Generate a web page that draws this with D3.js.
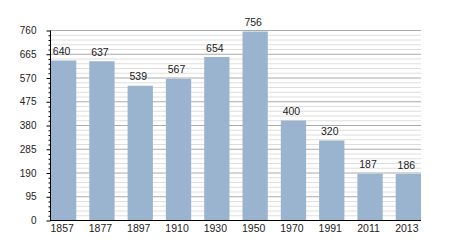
<!DOCTYPE html>
<html>
<head>
<meta charset="utf-8">
<script src="https://cdn.jsdelivr.net/npm/d3@7"></script>
<style>
  body { margin: 0; background: #fff; }
  text { font-family: "Liberation Sans", Arial, sans-serif; fill: #222; }
</style>
</head>
<body>
<div id="chart"></div>
<script>
const width = 450;
const height = 250;

// datos
const years = ["1857", "1877", "1897", "1910", "1930", "1950", "1970", "1991", "2011", "2013"];
const population = [640, 637, 539, 567, 654, 756, 400, 320, 187, 186];
const majorTicks = [0, 95, 190, 285, 380, 475, 570, 665, 760];
const minorStep = 19;

const svg = d3.select("div#chart")
  .append("svg")
  .attr("width", width)
  .attr("height", height);

// escalas
const x = d3.scaleBand()
  .domain(years)
  .range([51, 421])
  .paddingInner(0.34)
  .paddingOuter(0);

const y = d3.scaleLinear()
  .domain([0, 760])
  .range([220.5, 30.5]);

const minorTicks = d3.range(0, 760 + 1, minorStep).filter(v => v % 95 !== 0);

// rejilla
const gridGroup = svg.append("g").attr("id", "grid");
gridGroup.selectAll("line.minor")
  .data(minorTicks)
  .enter().append("line")
  .attr("class", "minor")
  .attr("x1", 50).attr("x2", 421)
  .attr("y1", d => y(d)).attr("y2", d => y(d))
  .attr("stroke", "#dedede");

gridGroup.selectAll("line.major")
  .data(majorTicks.filter(d => d > 0))
  .enter().append("line")
  .attr("class", "major")
  .attr("x1", 50).attr("x2", 421)
  .attr("y1", d => y(d)).attr("y2", d => y(d))
  .attr("stroke", "#aaaaaa");

// barras
const data = years.map((year, i) => ({ year, value: population[i] }));

const bars = svg.append("g").attr("id", "bars");
bars.selectAll("rect")
  .data(data)
  .enter().append("rect")
  .attr("x", d => x(d.year))
  .attr("y", d => y(d.value))
  .attr("width", x.bandwidth())
  .attr("height", d => y(0) - y(d.value))
  .attr("fill", "#9ab3cf");

bars.selectAll("text")
  .data(data)
  .enter().append("text")
  .attr("x", d => x(d.year) + x.bandwidth() / 2 - 2)
  .attr("y", d => y(d.value) - 5.5)
  .attr("text-anchor", "middle")
  .attr("font-size", "10.5px")
  .text(d => d.value);

// ejes
const yAxis = d3.axisLeft(y)
  .tickValues(majorTicks)
  .tickSize(4)
  .tickPadding(10)
  .tickFormat(d3.format("d"));

const yMinor = d3.axisLeft(y)
  .tickValues(minorTicks)
  .tickSize(2)
  .tickFormat("");

const yAxisGroup = svg.append("g")
  .attr("transform", "translate(50.5, 0)")
  .call(yAxis);
yAxisGroup.select(".domain").remove();
yAxisGroup.selectAll("text").attr("font-size", "10px").attr("font-family", null);

const yMinorGroup = svg.append("g")
  .attr("transform", "translate(50.5, 0)")
  .call(yMinor);
yMinorGroup.select(".domain").remove();

const xAxis = d3.axisBottom(x)
  .tickSize(0)
  .tickPadding(4.5);

const xAxisGroup = svg.append("g")
  .attr("transform", `translate(-1.5, ${y(0)})`)
  .call(xAxis);
xAxisGroup.select(".domain").remove();
xAxisGroup.selectAll("text").attr("font-size", "10.5px").attr("font-family", null);

// lineas de ejes
svg.append("line")
  .attr("x1", 50.5).attr("x2", 50.5)
  .attr("y1", y(760)).attr("y2", y(0))
  .attr("stroke", "#000");
svg.append("line")
  .attr("x1", 50).attr("x2", 421)
  .attr("y1", y(0)).attr("y2", y(0))
  .attr("stroke", "#000");
</script>
</body>
</html>
